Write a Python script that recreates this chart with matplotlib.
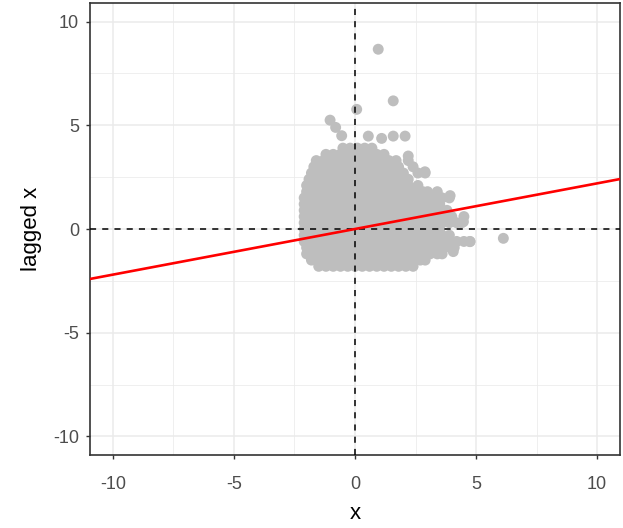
import matplotlib
matplotlib.use('Agg')
import matplotlib.pyplot as plt

plt.rcParams['font.family'] = ['Liberation Sans', 'DejaVu Sans']
plt.rcParams['axes.unicode_minus'] = False

# dense cloud (y level -> x positions)
row_y = [3.9, 3.6, 3.3, 3.0, 2.7, 2.4, 2.1, 1.8, 1.5, 1.2, 0.9, 0.6, 0.3,
         0.0, -0.3, -0.6, -0.9, -1.2, -1.5, -1.8]
row_x = [
    [-0.5, -0.2, 0.1, 0.4, 0.7],
    [-1.2, -0.9, -0.6, -0.3, 0.0, 0.3, 0.6, 0.9, 1.2],
    [-1.6, -1.3, -1.0, -0.7, -0.4, -0.1, 0.2, 0.5, 0.8, 1.1, 1.4, 1.7, 2.2],
    [-1.7, -1.4, -1.1, -0.8, -0.5, -0.2, 0.1, 0.4, 0.7, 1.0, 1.3, 1.6, 1.8, 2.4],
    [-1.8, -1.5, -1.2, -0.9, -0.6, -0.3, 0.0, 0.3, 0.6, 0.9, 1.2, 1.5, 1.8, 2.0, 2.6, 2.9],
    [-1.9, -1.6, -1.3, -1.0, -0.7, -0.4, -0.1, 0.2, 0.5, 0.8, 1.1, 1.4, 1.7, 2.0, 2.2],
    [-2.0, -1.7, -1.4, -1.1, -0.8, -0.5, -0.2, 0.1, 0.4, 0.7, 1.0, 1.3, 1.6, 1.9, 2.2, 2.6],
    [-2.0, -1.7, -1.4, -1.1, -0.8, -0.5, -0.2, 0.1, 0.4, 0.7, 1.0, 1.3, 1.6, 1.9, 2.2, 2.5, 2.8, 3.0, 3.4],
    [-2.1, -1.8, -1.5, -1.2, -0.9, -0.6, -0.3, 0.0, 0.3, 0.6, 0.9, 1.2, 1.5, 1.8, 2.1, 2.4, 2.7, 3.0, 3.3, 3.6, 3.9],
    [-2.1, -1.8, -1.5, -1.2, -0.9, -0.6, -0.3, 0.0, 0.3, 0.6, 0.9, 1.2, 1.5, 1.8, 2.1, 2.4, 2.7, 3.0, 3.3, 3.5],
    [-2.1, -1.8, -1.5, -1.2, -0.9, -0.6, -0.3, 0.0, 0.3, 0.6, 0.9, 1.2, 1.5, 1.8, 2.1, 2.4, 2.7, 3.0, 3.3, 3.6, 3.8],
    [-2.1, -1.8, -1.5, -1.2, -0.9, -0.6, -0.3, 0.0, 0.3, 0.6, 0.9, 1.2, 1.5, 1.8, 2.1, 2.4, 2.7, 3.0, 3.3, 3.6, 4.0, 4.5],
    [-2.1, -1.8, -1.5, -1.2, -0.9, -0.6, -0.3, 0.0, 0.3, 0.6, 0.9, 1.2, 1.5, 1.8, 2.1, 2.4, 2.7, 3.0, 3.3, 3.6, 3.9, 4.2, 4.4],
    [-2.1, -1.8, -1.5, -1.2, -0.9, -0.6, -0.3, 0.0, 0.3, 0.6, 0.9, 1.2, 1.5, 1.8, 2.1, 2.4, 2.7, 3.0, 3.3, 3.5],
    [-2.1, -1.8, -1.5, -1.2, -0.9, -0.6, -0.3, 0.0, 0.3, 0.6, 0.9, 1.2, 1.5, 1.8, 2.1, 2.4, 2.7, 3.0, 3.3, 3.6, 3.9],
    [-2.1, -1.8, -1.5, -1.2, -0.9, -0.6, -0.3, 0.0, 0.3, 0.6, 0.9, 1.2, 1.5, 1.8, 2.1, 2.4, 2.7, 3.0, 3.3, 3.6, 3.9, 4.2, 4.5, 4.75],
    [-2.0, -1.7, -1.4, -1.1, -0.8, -0.5, -0.2, 0.1, 0.4, 0.7, 1.0, 1.3, 1.6, 1.9, 2.2, 2.5, 2.8, 3.1, 3.4, 3.7, 4.1],
    [-2.0, -1.7, -1.4, -1.1, -0.8, -0.5, -0.2, 0.1, 0.4, 0.7, 1.0, 1.3, 1.6, 1.9, 2.2, 2.5, 2.8, 3.1, 3.4, 3.6],
    [-1.8, -1.5, -1.2, -0.9, -0.6, -0.3, 0.0, 0.3, 0.6, 0.9, 1.2, 1.5, 1.8, 2.1, 2.4, 2.7, 2.9],
    [-1.5, -1.2, -0.9, -0.6, -0.3, 0.0, 0.3, 0.6, 0.9, 1.2, 1.5, 1.8, 2.1, 2.4],
]

# isolated points around the cloud
out_x = [0.96, 1.58, 0.07, -1.03, -0.8, -0.55, 0.55, 1.1, 1.58, 2.07, 2.2, 2.89,
         3.38, 3.93, 4.48, 4.75, 6.13, 4.06]
out_y = [8.67, 6.18, 5.77, 5.25, 4.9, 4.5, 4.48, 4.37, 4.48, 4.48, 3.52, 2.76,
         1.72, 1.61, 0.35, -0.61, -0.45, -1.09]

# fitted line through the origin
fit_intercept = 0.0
fit_slope = 0.22

xs, ys = [], []
for yv, row in zip(row_y, row_x):
    xs.extend(row)
    ys.extend([yv] * len(row))
xs.extend(out_x)
ys.extend(out_y)

fig = plt.figure(figsize=(6.23, 5.28), dpi=100)
ax = fig.add_axes([90 / 623, 1 - 455 / 528, 530 / 623, 452 / 528])

ax.set_xlim(-10.95, 10.95)
ax.set_ylim(-10.9, 10.9)
ax.set_xticks([-10, -5, 0, 5, 10])
ax.set_yticks([-10, -5, 0, 5, 10])
ax.set_xticks([-7.5, -2.5, 2.5, 7.5], minor=True)
ax.set_yticks([-7.5, -2.5, 2.5, 7.5], minor=True)
ax.grid(which='major', color='#EBEBEB', lw=1.1)
ax.grid(which='minor', color='#EBEBEB', lw=0.55)
ax.set_axisbelow(True)

ax.scatter(xs, ys, s=62, color='#BEBEBE', edgecolors='none', zorder=2)
ax.axhline(0, color='black', ls=(0, (4, 4)), lw=1.1, zorder=3)
ax.axvline(0, color='black', ls=(0, (4, 4)), lw=1.1, zorder=3)
ax.axline((0, fit_intercept), slope=fit_slope, color='red', lw=1.9, zorder=4)

for s in ax.spines.values():
    s.set_color('#333333')
    s.set_linewidth(1.2)
ax.tick_params(which='major', length=3, color='#333333', labelcolor='#4D4D4D',
               labelsize=13, width=1)
ax.tick_params(axis='x', pad=12)
ax.tick_params(axis='y', pad=5)
ax.tick_params(which='minor', length=0)

ax.set_xlabel('x', fontsize=16, color='black', labelpad=7)
ax.set_ylabel('lagged x', fontsize=16, color='black', labelpad=8)

plt.savefig('out.png', dpi=100)
